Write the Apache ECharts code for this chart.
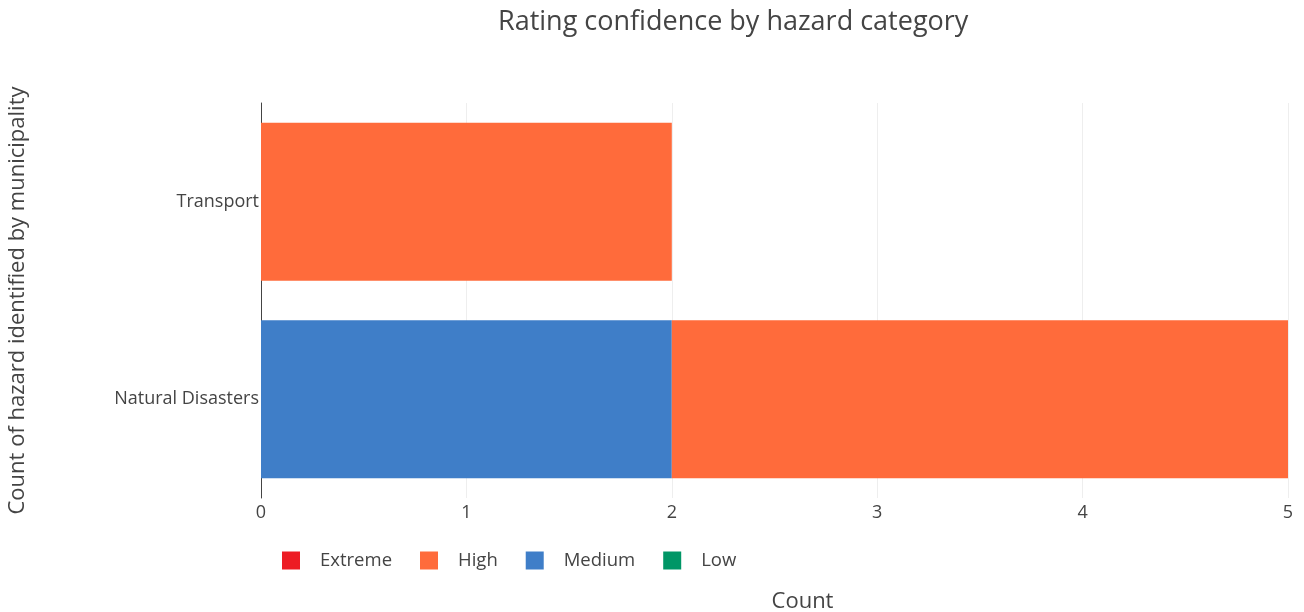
<!DOCTYPE html>
<html>
<head>
<meta charset="utf-8">
<script src="https://cdn.jsdelivr.net/npm/echarts@6/dist/echarts.min.js"></script>
<style>html,body{margin:0;padding:0;background:#fff}#c{width:1304px;height:612px}</style>
</head>
<body>
<div id="c"></div>
<script>
const categories = ['Natural Disasters', 'Transport'];
const seriesNames = ['Extreme', 'High', 'Medium', 'Low'];
const extremeValues = [null, null];
const highValues = [3, 2];
const mediumValues = [2, null];
const lowValues = [null, null];
const xTicks = [0, 1, 2, 3, 4, 5];

const colors = { Extreme: '#ED1C24', High: '#FF6B3B', Medium: '#3F7EC8', Low: '#009666' };
const valuesByName = { Extreme: extremeValues, High: highValues, Medium: mediumValues, Low: lowValues };
const FONT = '"Open Sans", sans-serif';

const chart = echarts.init(document.getElementById('c'));
const stackOrder = ['Low', 'Medium', 'High', 'Extreme'];
chart.setOption({
  animation: false,
  textStyle: { fontFamily: FONT },
  title: {
    text: 'Rating confidence by hazard category',
    left: 498, top: 9, padding: 0,
    textStyle: { fontSize: 27, fontWeight: 'normal', color: '#444', fontFamily: FONT }
  },
  legend: {
    data: seriesNames,
    left: 282, top: 551, padding: 0,
    itemWidth: 18, itemHeight: 18, itemGap: 28,
    icon: 'rect',
    textStyle: { fontSize: 18.5, color: '#444', fontFamily: FONT, padding: [0, 0, 0, 15] }
  },
  grid: { left: 261, right: 16, top: 103, bottom: 114, containLabel: false, outerBoundsMode: 'none' },
  xAxis: {
    type: 'value', min: xTicks[0], max: xTicks[xTicks.length - 1], interval: 1,
    name: 'Count', nameLocation: 'middle', nameGap: 93,
    nameTextStyle: { fontSize: 22, color: '#444', padding: [0, 0, 0, 56] },
    axisLine: { show: false }, axisTick: { show: false },
    axisLabel: { fontSize: 18, color: '#444', margin: 6 },
    splitLine: { show: true, lineStyle: { color: '#eee', width: 1 } }
  },
  yAxis: {
    type: 'category', data: categories,
    name: 'Count of hazard identified by municipality', nameLocation: 'middle', nameGap: 232,
    nameTextStyle: { fontSize: 22, color: '#444' },
    axisLine: { show: true, lineStyle: { color: '#444', width: 1 } },
    axisTick: { show: false },
    axisLabel: { fontSize: 18, color: '#444', margin: 2, padding: [4, 0, 0, 0] },
    splitLine: { show: false }
  },
  series: stackOrder.map(n => ({
    name: n, type: 'bar', stack: 'total', barWidth: '80%',
    itemStyle: { color: colors[n] },
    data: valuesByName[n]
  }))
});
</script>
</body>
</html>
